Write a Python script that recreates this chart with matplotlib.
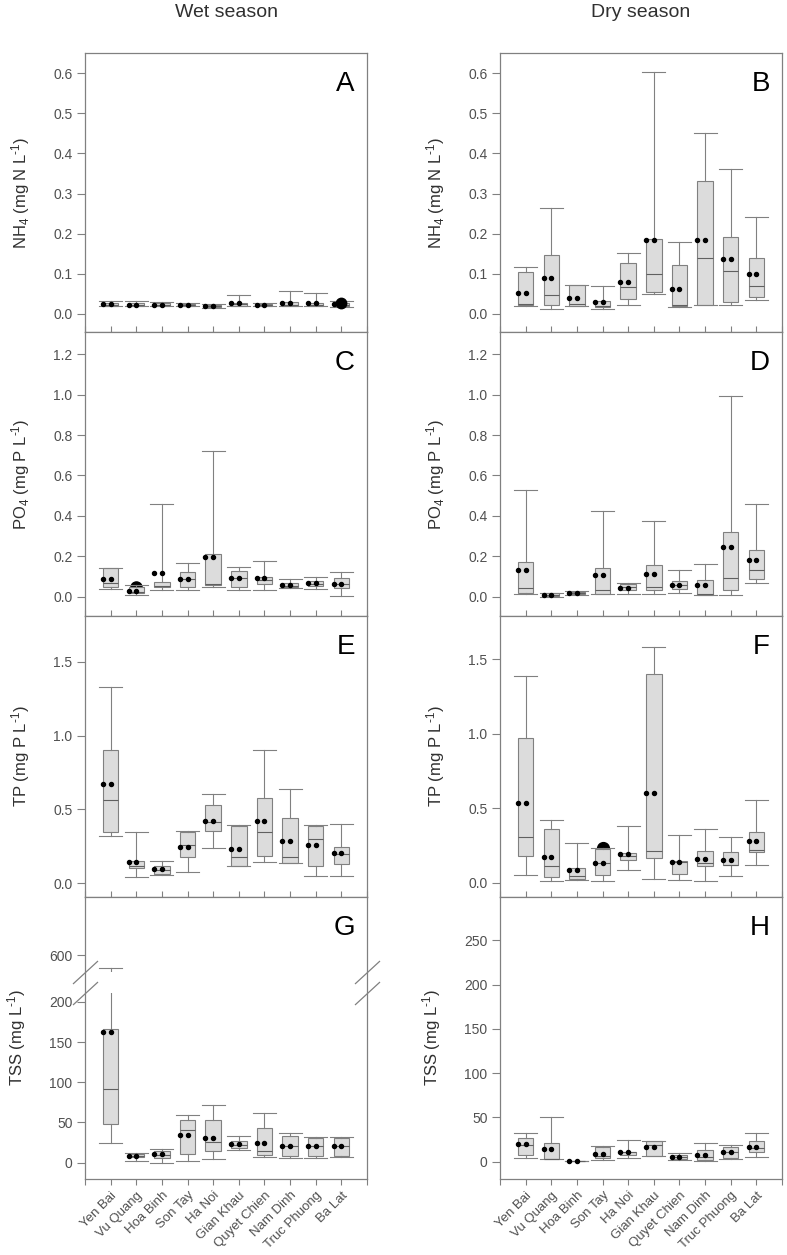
import numpy as np
import matplotlib
matplotlib.use('Agg')
import matplotlib.pyplot as plt
from matplotlib.path import Path

plt.rcParams['font.family'] = ['Liberation Sans', 'DejaVu Sans']
plt.rcParams['mathtext.fontset'] = 'custom'
plt.rcParams['mathtext.rm'] = 'Liberation Sans'
plt.rcParams['mathtext.it'] = 'Liberation Sans:italic'
plt.rcParams['mathtext.default'] = 'regular'

# ---------------- data ----------------
sites = ["Yen Bai", "Vu Quang", "Hoa Binh", "Son Tay", "Ha Noi", "Gian Khau",
         "Quyet Chien", "Nam Dinh", "Truc Phuong", "Ba Lat"]

# A: NH4 wet
A_lo   = [0.019, 0.019, 0.019, 0.019, 0.016, 0.020, 0.020, 0.019, 0.019, 0.018]
A_q1   = [0.020, 0.021, 0.021, 0.021, 0.018, 0.021, 0.021, 0.021, 0.021, 0.020]
A_med  = [0.023, 0.022, 0.022, 0.022, 0.019, 0.024, 0.022, 0.023, 0.023, 0.022]
A_q3   = [0.028, 0.026, 0.026, 0.025, 0.022, 0.028, 0.025, 0.029, 0.028, 0.027]
A_hi   = [0.033, 0.031, 0.030, 0.028, 0.024, 0.048, 0.026, 0.058, 0.051, 0.031]
A_mean = [0.024, 0.023, 0.023, 0.023, 0.020, 0.026, 0.023, 0.027, 0.026, 0.025]
A_out_site = [9]
A_out_val = [0.026]

# B: NH4 dry
B_lo   = [0.020, 0.0125, 0.019, 0.0125, 0.023, 0.050, 0.017, 0.023, 0.023, 0.035]
B_q1   = [0.023, 0.023, 0.021, 0.017, 0.0375, 0.054, 0.021, 0.023, 0.029, 0.043]
B_med  = [0.025, 0.046, 0.025, 0.021, 0.068, 0.100, 0.023, 0.140, 0.1075, 0.070]
B_q3   = [0.105, 0.146, 0.071, 0.033, 0.128, 0.1875, 0.121, 0.331, 0.192, 0.140]
B_hi   = [0.116, 0.265, 0.0725, 0.069, 0.152, 0.6025, 0.178, 0.450, 0.361, 0.2425]
B_mean = [0.052, 0.089, 0.040, 0.029, 0.079, 0.183, 0.0625, 0.185, 0.137, 0.100]

# C: PO4 wet
C_lo   = [0.040, 0.008, 0.033, 0.033, 0.046, 0.033, 0.033, 0.041, 0.036, 0.005]
C_q1   = [0.050, 0.017, 0.046, 0.050, 0.058, 0.050, 0.061, 0.046, 0.053, 0.041]
C_med  = [0.066, 0.025, 0.053, 0.086, 0.063, 0.094, 0.083, 0.053, 0.063, 0.063]
C_q3   = [0.142, 0.046, 0.074, 0.120, 0.210, 0.127, 0.099, 0.066, 0.079, 0.091]
C_hi   = [0.142, 0.058, 0.458, 0.165, 0.719, 0.145, 0.178, 0.086, 0.096, 0.120]
C_mean = [0.086, 0.030, 0.119, 0.086, 0.197, 0.091, 0.091, 0.055, 0.066, 0.063]
C_out_site = [1]
C_out_val = [0.050]

# D: PO4 dry
D_lo   = [0.012, 0.000, 0.007, 0.012, 0.012, 0.012, 0.018, 0.007, 0.007, 0.069]
D_q1   = [0.020, 0.003, 0.012, 0.015, 0.031, 0.031, 0.036, 0.008, 0.031, 0.086]
D_med  = [0.041, 0.008, 0.017, 0.031, 0.048, 0.048, 0.058, 0.012, 0.094, 0.130]
D_q3   = [0.172, 0.017, 0.025, 0.140, 0.061, 0.155, 0.078, 0.081, 0.322, 0.230]
D_hi   = [0.527, 0.017, 0.028, 0.425, 0.066, 0.372, 0.130, 0.160, 0.995, 0.458]
D_mean = [0.132, 0.008, 0.017, 0.106, 0.041, 0.111, 0.058, 0.056, 0.246, 0.180]

# E: TP wet
E_lo   = [0.320, 0.043, 0.056, 0.074, 0.239, 0.117, 0.146, 0.135, 0.052, 0.047]
E_q1   = [0.347, 0.101, 0.061, 0.178, 0.351, 0.119, 0.182, 0.137, 0.115, 0.128]
E_med  = [0.561, 0.117, 0.090, 0.259, 0.414, 0.180, 0.349, 0.180, 0.297, 0.196]
E_q3   = [0.905, 0.151, 0.117, 0.349, 0.527, 0.387, 0.579, 0.444, 0.387, 0.248]
E_hi   = [1.331, 0.347, 0.153, 0.356, 0.604, 0.394, 0.900, 0.637, 0.394, 0.401]
E_mean = [0.671, 0.146, 0.099, 0.248, 0.423, 0.234, 0.419, 0.288, 0.259, 0.203]

# F: TP dry
F_lo   = [0.056, 0.011, 0.020, 0.016, 0.090, 0.027, 0.018, 0.011, 0.045, 0.121]
F_q1   = [0.184, 0.040, 0.027, 0.056, 0.157, 0.168, 0.063, 0.112, 0.119, 0.209]
F_med  = [0.305, 0.117, 0.049, 0.135, 0.179, 0.217, 0.141, 0.135, 0.123, 0.224]
F_q3   = [0.975, 0.359, 0.101, 0.231, 0.202, 1.401, 0.150, 0.217, 0.206, 0.341]
F_hi   = [1.386, 0.419, 0.265, 0.235, 0.381, 1.585, 0.325, 0.359, 0.307, 0.554]
F_mean = [0.536, 0.177, 0.087, 0.135, 0.197, 0.601, 0.141, 0.161, 0.157, 0.280]
F_out_site = [3]
F_out_val = [0.232]

# G: TSS wet (broken axis)
G_lo   = [24.4, 2.0, 0.0, 2.0, 4.5, 15.7, 7.4, 5.4, 6.2, 7.4]
G_q1   = [47.5, 7.4, 5.4, 10.7, 14.5, 17.8, 9.5, 8.3, 8.3, 8.7]
G_med  = [92.0, 8.3, 9.5, 40.5, 25.2, 21.9, 14.9, 20.7, 20.7, 21.1]
G_q3   = [166.5, 10.3, 14.9, 53.7, 52.9, 26.9, 42.6, 33.0, 30.2, 30.2]
G_hi   = [584.0, 11.6, 16.5, 59.5, 71.5, 33.5, 62.0, 36.4, 32.2, 31.4]
G_mean = [163.0, 8.7, 10.3, 33.9, 31.0, 22.7, 24.8, 20.7, 20.7, 20.7]

# H: TSS dry
H_lo   = [3.8, 2.6, 0.4, 1.9, 4.2, 6.8, 1.9, 0.8, 3.0, 5.7]
H_q1   = [7.9, 3.0, 0.8, 4.2, 7.6, 6.8, 3.0, 1.9, 4.2, 11.3]
H_med  = [18.2, 3.0, 0.9, 6.8, 10.6, 18.2, 4.9, 5.7, 11.3, 15.5]
H_q3   = [26.9, 20.8, 1.1, 17.0, 10.6, 23.8, 7.9, 13.2, 16.3, 23.8]
H_hi   = [31.8, 50.3, 1.1, 17.4, 24.6, 23.8, 10.2, 21.2, 18.2, 31.8]
H_mean = [19.3, 14.4, 1.1, 8.7, 11.0, 16.3, 4.9, 7.9, 10.6, 17.0]

# axis ticks / labels
yt_nh4 = [0.0, 0.1, 0.2, 0.3, 0.4, 0.5, 0.6]
yt_po4 = [0.0, 0.2, 0.4, 0.6, 0.8, 1.0, 1.2]
yt_tp = [0.0, 0.5, 1.0, 1.5]
yt_tss_wet = [0, 50, 100, 150, 200, 600]
yt_tss_dry = [0, 50, 100, 150, 200, 250]

# broken axis for G
BRK_LO, BRK_HI, BRK_GAP = 211.0, 579.0, 26.0

def fwd(y):
    y = np.asarray(y, dtype=float)
    return np.where(y <= BRK_LO, y,
                    np.where(y >= BRK_HI, BRK_LO + BRK_GAP + (y - BRK_HI),
                             BRK_LO + (y - BRK_LO) * BRK_GAP / (BRK_HI - BRK_LO)))

def inv(z):
    z = np.asarray(z, dtype=float)
    return np.where(z <= BRK_LO, z,
                    np.where(z >= BRK_LO + BRK_GAP, BRK_HI + (z - BRK_LO - BRK_GAP),
                             BRK_LO + (z - BRK_LO) * (BRK_HI - BRK_LO) / BRK_GAP))

# ---------------- figure ----------------
W, H = 787, 1255
fig = plt.figure(figsize=(W / 100, H / 100), dpi=100)

def rect(l, t, r, b):
    return [l / W, 1 - b / H, (r - l) / W, (b - t) / H]

col_x = [(85, 367), (500, 782)]
row_y = [(53, 332), (332, 616), (616, 897), (897, 1179)]

GRAY = '#808080'
TXT = '#505050'
BOXFACE = '#dcdcdc'
SUP = r'$^{\text{-1}}$'

panels = [
    ('A', 0, 0, (A_lo, A_q1, A_med, A_q3, A_hi, A_mean), (-0.045, 0.65), yt_nh4, 'NH$_4$ (mg N L' + SUP + ')', (A_out_site, A_out_val, 3.5, 7.5)),
    ('B', 0, 1, (B_lo, B_q1, B_med, B_q3, B_hi, B_mean), (-0.045, 0.65), yt_nh4, 'NH$_4$ (mg N L' + SUP + ')', None),
    ('C', 1, 0, (C_lo, C_q1, C_med, C_q3, C_hi, C_mean), (-0.096, 1.31), yt_po4, 'PO$_4$ (mg P L' + SUP + ')', (C_out_site, C_out_val, 1.5, 8)),
    ('D', 1, 1, (D_lo, D_q1, D_med, D_q3, D_hi, D_mean), (-0.096, 1.31), yt_po4, 'PO$_4$ (mg P L' + SUP + ')', None),
    ('E', 2, 0, (E_lo, E_q1, E_med, E_q3, E_hi, E_mean), (-0.093, 1.81), yt_tp, 'TP (mg P L' + SUP + ')', None),
    ('F', 2, 1, (F_lo, F_q1, F_med, F_q3, F_hi, F_mean), (-0.094, 1.79), yt_tp, 'TP (mg P L' + SUP + ')', (F_out_site, F_out_val, 1.5, 8.5)),
    ('G', 3, 0, (G_lo, G_q1, G_med, G_q3, G_hi, G_mean), (-20.3, 672.5), yt_tss_wet, 'TSS (mg L' + SUP + ')', None),
    ('H', 3, 1, (H_lo, H_q1, H_med, H_q3, H_hi, H_mean), (-19.7, 299), yt_tss_dry, 'TSS (mg L' + SUP + ')', None),
]

pos = np.arange(1, len(sites) + 1)

for letter, r, c, stats, ylim, yticks, ylabel, outl in panels:
    l, rr = col_x[c]
    t, b = row_y[r]
    ax = fig.add_axes(rect(l, t, rr, b))
    if letter == 'G':
        ax.set_yscale('function', functions=(fwd, inv))
    lo, q1, med, q3, hi, mean = stats
    bstats = [dict(whislo=lo[i], q1=q1[i], med=med[i], q3=q3[i], whishi=hi[i], fliers=[])
              for i in range(len(sites))]
    ax.bxp(bstats, positions=pos, widths=0.6, capwidths=0.9, patch_artist=True,
           showfliers=False,
           boxprops=dict(facecolor=BOXFACE, edgecolor=GRAY, linewidth=0.8),
           whiskerprops=dict(color=GRAY, linewidth=0.8),
           capprops=dict(color=GRAY, linewidth=0.8),
           medianprops=dict(color='#606060', linewidth=0.8),
           manage_ticks=False)
    ax.plot(np.concatenate([pos - 0.3, pos]), np.tile(np.asarray(mean), 2), 'o',
            color='black', ms=2.9, zorder=3, linestyle='none')
    if outl is not None:
        osite, oval, oz, oms = outl
        ax.plot(pos[np.asarray(osite)], oval, 'o', color='black', ms=oms, zorder=oz)
    ax.set_xlim(0, 11)
    ax.set_ylim(*ylim)
    ax.set_yticks(yticks)
    if letter in 'GH':
        ax.set_yticklabels([f'{v:d}' for v in yticks])
    else:
        ax.set_yticklabels([f'{v:.1f}' for v in yticks])
    ax.set_xticks(np.arange(0, 12))
    for s in ax.spines.values():
        s.set_color(GRAY)
        s.set_linewidth(0.9)
    ax.tick_params(axis='y', direction='out', length=5.5, width=0.8, color=GRAY,
                   labelsize=10, labelcolor=TXT, pad=3.5)
    if r == 3:
        ax.set_xticklabels([''] + sites + [''], rotation=45, ha='right',
                           rotation_mode='anchor', fontsize=9.5, color=TXT)
        ax.tick_params(axis='x', direction='out', length=4.5, width=0.8, color=GRAY, pad=3)
    else:
        ax.set_xticklabels([])
        ax.tick_params(axis='x', direction='in', length=4, width=0.8, color=GRAY)
    ax.set_ylabel(ylabel, fontsize=12, color='#303030', labelpad=15)
    ax.text(0.957, 0.935, letter, transform=ax.transAxes, ha='right', va='top',
            fontsize=20, color='black')
    if letter == 'G':
        # white band hiding the break, slashes on both spines
        ax.axhspan(BRK_LO, BRK_HI, color='white', zorder=2.3, lw=0)
        slash = Path([(-1.0, -0.92), (1.0, 0.92)], [Path.MOVETO, Path.LINETO])
        for yb in (BRK_LO, BRK_HI):
            ax.plot([0, 1], [yb, yb], transform=ax.get_yaxis_transform(),
                    marker=slash, ms=18, mew=0.9, mec=GRAY, linestyle='none',
                    clip_on=False, zorder=4)

fig.text(226 / W, 1 - 12.5 / H, 'Wet season', ha='center', va='center', fontsize=14, color='#303030')
fig.text(641 / W, 1 - 12.5 / H, 'Dry season', ha='center', va='center', fontsize=14, color='#303030')

fig.savefig('out.png', dpi=100)
